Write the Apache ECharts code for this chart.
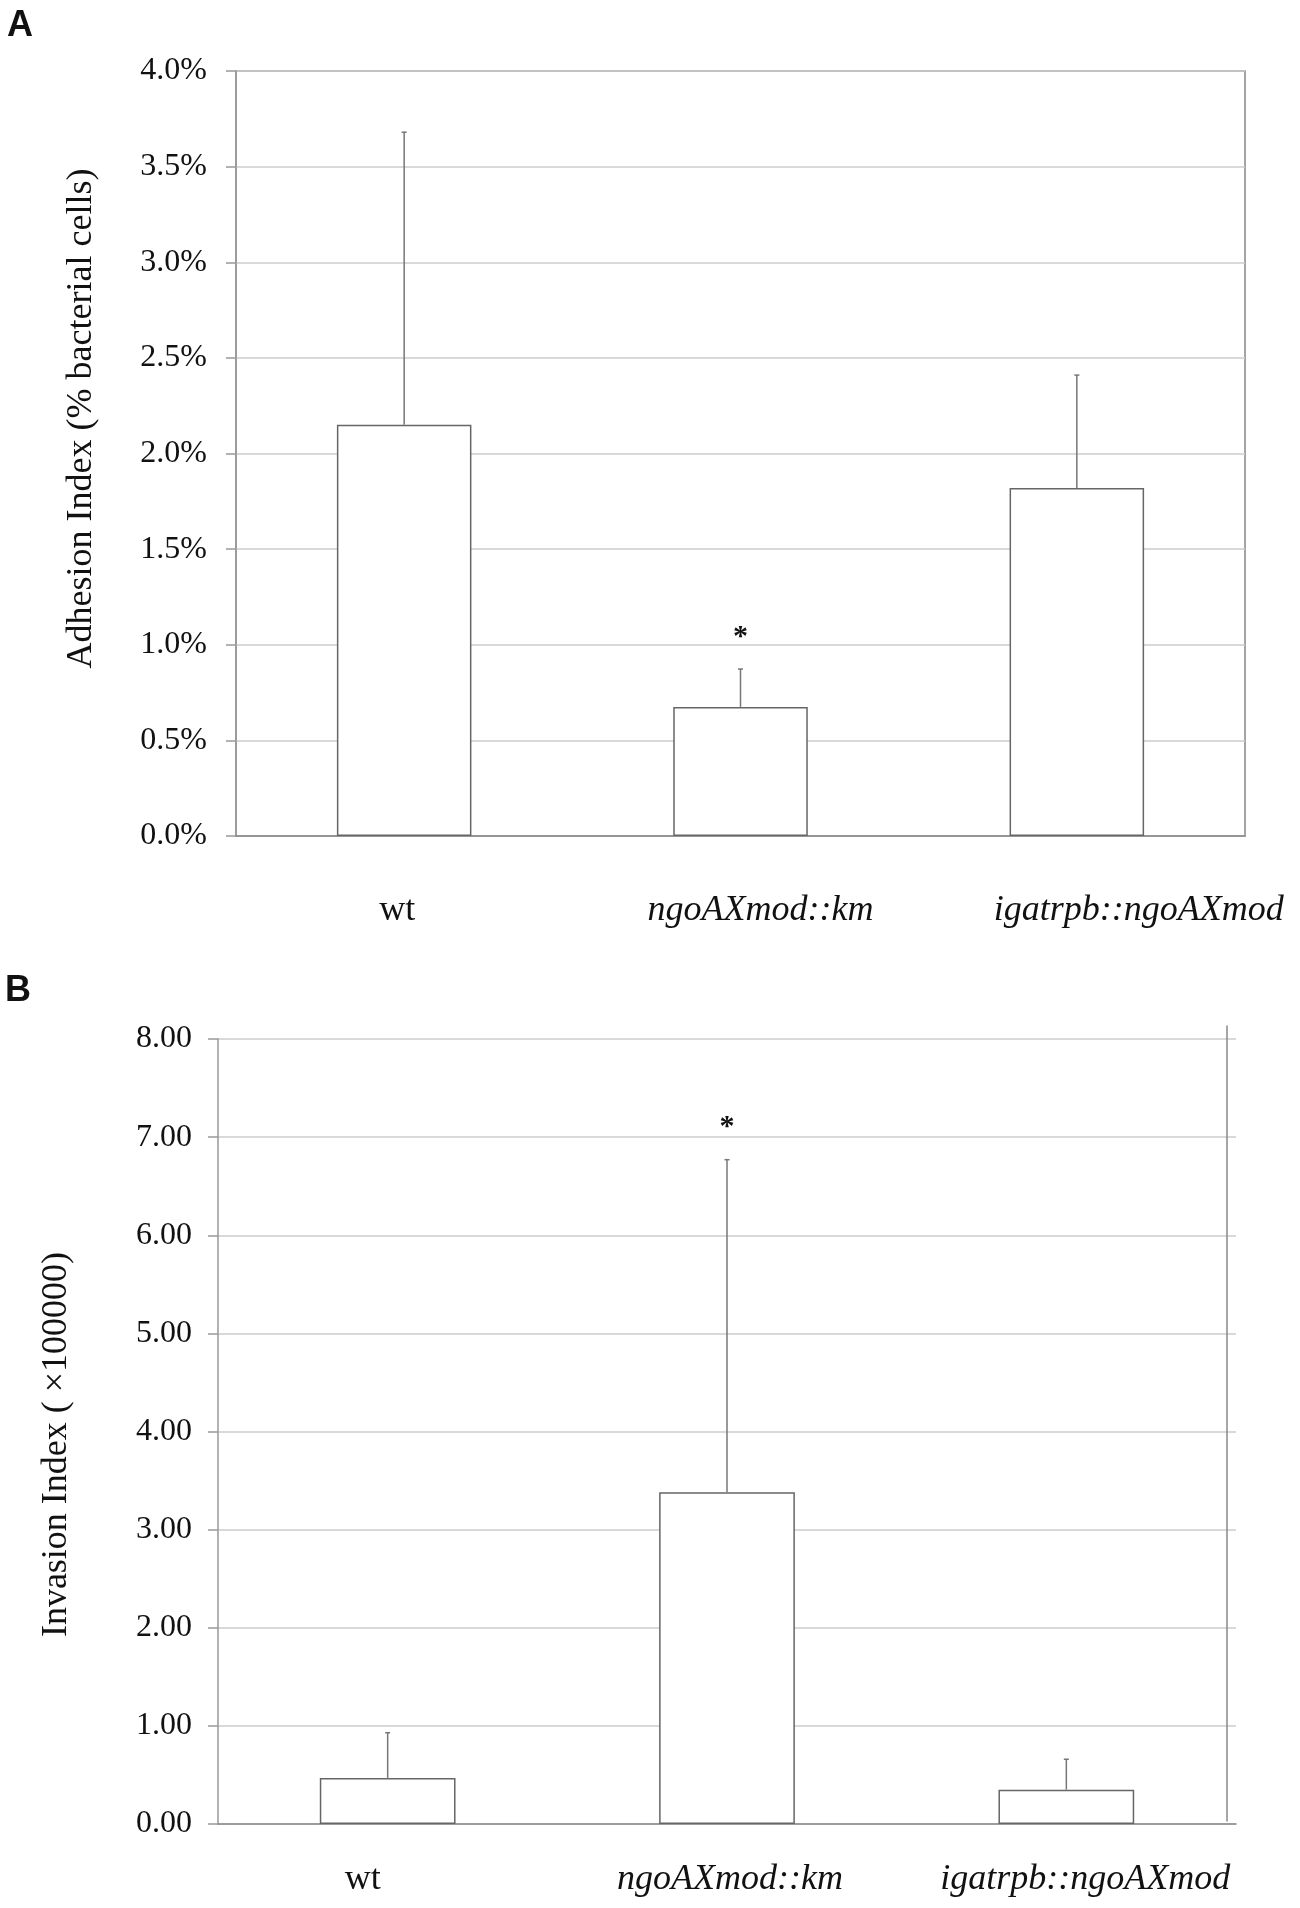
<!DOCTYPE html>
<html>
<head>
<meta charset="utf-8">
<script src="https://cdn.jsdelivr.net/npm/echarts@6/dist/echarts.min.js"></script>
<style>
  html, body { margin: 0; padding: 0; background: #fff; }
  #chart { width: 1300px; height: 1908px; }
</style>
</head>
<body>
<div id="chart"></div>
<script>
// data
const categories = ['wt', 'ngoAXmod::km', 'igatrpb::ngoAXmod']
const italicLabel = [false, true, true]

const adhesionMean = [2.15, 0.675, 1.82]   // %
const adhesionSD = [1.53, 0.198, 0.59]
const adhesionSig = ['', '*', '']
const adhesionTicks = { min: 0, max: 4, interval: 0.5 }

const invasionMean = [0.47, 3.38, 0.35]    // x100000
const invasionSD = [0.46, 3.39, 0.31]
const invasionSig = ['', '*', '']
const invasionTicks = { min: 0, max: 8, interval: 1 }

// label nudges (px) so the category names sit where the original put them
const shiftA = [-7, 20, 62]
const shiftB = [-25, 3, 19]

const serif = '"Liberation Serif", "Times New Roman", serif'
const ink = '#111'

function catItems(shift){
  return categories.map((c, i) => {
    const s = shift[i]
    return {
      value: c,
      textStyle: {
        fontStyle: italicLabel[i] ? 'italic' : 'normal',
        padding: s >= 0 ? [0, 0, 0, 2 * s] : [0, -2 * s, 0, 0]
      }
    }
  })
}

function errorBars(sig){
  return function(params, api){
    const i = api.value(0)
    const base = api.coord([i, api.value(1)])
    const top = api.coord([i, api.value(2)])
    const children = [
      { type: 'line', shape: { x1: base[0], y1: base[1], x2: top[0], y2: top[1] }, style: { stroke: '#777', lineWidth: 1.5 } },
      { type: 'line', shape: { x1: top[0] - 2.5, y1: top[1], x2: top[0] + 2.5, y2: top[1] }, style: { stroke: '#777', lineWidth: 1.5 } }
    ]
    if (sig[i]) {
      children.push({
        type: 'text',
        style: { text: sig[i], x: top[0], y: top[1] - 32, align: 'center', verticalAlign: 'middle', font: 'bold 30px ' + serif, fill: ink }
      })
    }
    return { type: 'group', children }
  }
}

const myChart = echarts.init(document.querySelector('#chart'), null, { renderer: 'canvas' })

const valueAxisBase = {
  type: 'value',
  axisLine: { show: true, lineStyle: { color: '#999', width: 1.5 } },
  axisTick: { show: true, length: 10, lineStyle: { color: '#999', width: 1.5 } },
  splitLine: { lineStyle: { color: '#cdcdcd', width: 1.5 } },
  nameLocation: 'middle',
  nameTextStyle: { fontFamily: serif, fontSize: 36, color: ink }
}

const option = {
  animation: false,
  backgroundColor: '#fff',
  title: [
    { text: 'A', left: 2, top: 3, textStyle: { fontFamily: '"Liberation Sans", Arial, sans-serif', fontWeight: 'bold', fontSize: 36, color: ink } },
    { text: 'B', left: 0, top: 968, textStyle: { fontFamily: '"Liberation Sans", Arial, sans-serif', fontWeight: 'bold', fontSize: 36, color: ink } }
  ],
  grid: [
    { left: 236, top: 71, width: 1009, height: 765, show: true, borderColor: '#888', borderWidth: 1.5 },
    { left: 218, top: 1039, width: 1018, height: 785 },
    // only carries the stray right-hand line of panel B
    { left: 218, top: 1026, width: 1009, height: 795 }
  ],
  xAxis: [
    {
      type: 'category', gridIndex: 0, data: catItems(shiftA),
      axisTick: { show: false },
      axisLine: { lineStyle: { color: '#888', width: 1.5 } },
      axisLabel: { interval: 0, margin: 57, fontFamily: serif, fontSize: 36, color: ink }
    },
    {
      type: 'category', gridIndex: 1, data: catItems(shiftB),
      axisTick: { show: false },
      axisLine: { lineStyle: { color: '#888', width: 1.5 } },
      axisLabel: { interval: 0, margin: 38, fontFamily: serif, fontSize: 36, color: ink }
    },
    { type: 'value', gridIndex: 2, min: 0, max: 1, show: false }
  ],
  yAxis: [
    Object.assign({}, valueAxisBase, {
      gridIndex: 0,
      min: adhesionTicks.min, max: adhesionTicks.max, interval: adhesionTicks.interval,
      name: 'Adhesion Index (% bacterial cells)',
      nameGap: 136,
      nameTextStyle: { fontFamily: serif, fontSize: 36, color: ink, padding: [0, 0, 0, 70] },
      axisLabel: { margin: 29, fontFamily: serif, fontSize: 32, color: ink, formatter: v => v.toFixed(1) + '%' }
    }),
    Object.assign({}, valueAxisBase, {
      gridIndex: 1,
      min: invasionTicks.min, max: invasionTicks.max, interval: invasionTicks.interval,
      name: 'Invasion Index ( \u00d7100000)',
      nameGap: 143,
      nameTextStyle: { fontFamily: serif, fontSize: 36, color: ink, padding: [0, 26, 0, 0] },
      axisLabel: { margin: 26, fontFamily: serif, fontSize: 32, color: ink, formatter: v => v.toFixed(2) }
    }),
    {
      type: 'value', gridIndex: 2, position: 'right', min: 0, max: 1,
      axisLine: { show: true, onZero: false, lineStyle: { color: '#888', width: 1.5 } },
      axisTick: { show: false }, axisLabel: { show: false }, splitLine: { show: false }
    }
  ],
  series: [
    {
      type: 'bar', xAxisIndex: 0, yAxisIndex: 0, barWidth: '40%',
      itemStyle: { color: '#fff', borderColor: '#666', borderWidth: 1.5 },
      data: adhesionMean
    },
    {
      type: 'custom', xAxisIndex: 0, yAxisIndex: 0, z: 3,
      renderItem: errorBars(adhesionSig),
      data: adhesionMean.map((m, i) => [i, m, m + adhesionSD[i]])
    },
    {
      type: 'bar', xAxisIndex: 1, yAxisIndex: 1, barWidth: '40%',
      itemStyle: { color: '#fff', borderColor: '#666', borderWidth: 1.5 },
      data: invasionMean
    },
    {
      type: 'custom', xAxisIndex: 1, yAxisIndex: 1, z: 3,
      renderItem: errorBars(invasionSig),
      data: invasionMean.map((m, i) => [i, m, m + invasionSD[i]])
    }
  ]
}

myChart.setOption(option)
</script>
</body>
</html>
